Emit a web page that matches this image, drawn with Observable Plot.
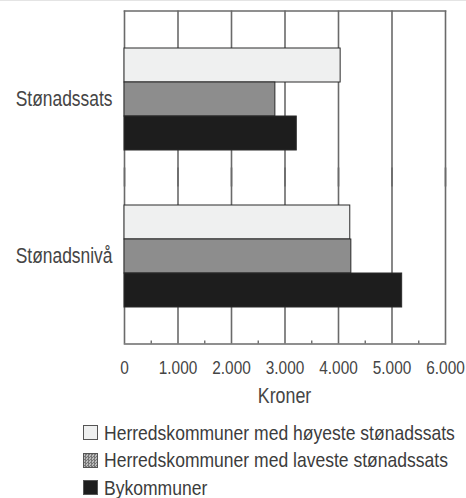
<!DOCTYPE html>
<html>
<head>
<meta charset="utf-8">
<script src="https://cdn.jsdelivr.net/npm/d3@7"></script>
<script src="https://cdn.jsdelivr.net/npm/@observablehq/plot@0.6"></script>
<style>
  html, body { margin: 0; padding: 0; background: #fff; }
  body { width: 466px; height: 498px; overflow: hidden; position: relative; }
  .topline { position: absolute; left: 0; top: 0; width: 466px; height: 1px; background: #e4e4e4; }
  #chart svg { display: block; }
  .legend { font-family: "Liberation Sans", Arial, sans-serif; font-size: 21px; color: #3c3c3c; margin-left: 83px; margin-top: 9px; }
  .row { display: flex; align-items: center; height: 27.5px; white-space: nowrap; }
  .row span { display: inline-block; transform: scaleX(0.835); transform-origin: left center; }
  .sw { width: 15px; height: 15px; box-sizing: border-box; border: 1px solid #555; margin-right: 6px; flex: none; }
</style>
</head>
<body>
<div class="topline"></div>
<div id="chart"></div>
<div class="legend" id="legend"></div>
<script>
const groups = ["Stønadssats", "Stønadsnivå"];
const series = [
  "Herredskommuner med høyeste stønadssats",
  "Herredskommuner med laveste stønadssats",
  "Bykommuner"
];
const hoyeste = [4040, 4220];
const laveste = [2820, 4240];
const bykommuner = [3220, 5190];
const xTicks = [0, 1000, 2000, 3000, 4000, 5000, 6000];
const minorTicks = [500, 1500, 2500, 3500, 4500, 5500];
const colors = ["#eff0f0", "#8d8d8d", "#1d1d1d"];

const seriesValues = [hoyeste, laveste, bykommuner];
const data = [];
groups.forEach((g, gi) => {
  series.forEach((s, si) => data.push({group: g, series: s, value: seriesValues[si][gi]}));
});

const font = '"Liberation Sans", Arial, sans-serif';
const fmt = d => d3.format(",")(d).replace(/,/g, ".");
const ext = 9.5; // frame extends beyond the facet bands
const gridStroke = "#6a6a6a";

const chart = Plot.plot({
  width: 466,
  height: 410,
  marginLeft: 124,
  marginRight: 21,
  marginTop: 10,
  marginBottom: 67,
  style: {fontFamily: font, fontSize: "21px", color: "#454545", background: "#fff"},
  x: {domain: [0, 6000], axis: null},
  y: {domain: series, axis: null, paddingInner: 0, paddingOuter: 0.775},
  fy: {domain: groups, paddingInner: 0, paddingOuter: 0.0605, axis: null},
  color: {domain: series, range: colors},
  marks: [
    Plot.ruleX(xTicks, {stroke: gridStroke, strokeWidth: 1.6, insetTop: -ext, insetBottom: -ext}),
    Plot.frame({anchor: "top", facetAnchor: "top", dy: -ext, stroke: gridStroke, strokeWidth: 1.6}),
    Plot.frame({anchor: "bottom", facetAnchor: "bottom", dy: ext, stroke: gridStroke, strokeWidth: 1.6}),
    Plot.barX(data, {x: "value", y: "series", fy: "group", fill: "series", stroke: "#2a2a2a", strokeWidth: 1}),
    Plot.axisFy({anchor: "left", tickSize: 0, tickPadding: 12, label: null, fontSize: 21.5}),
    Plot.axisX(minorTicks, {anchor: "bottom", tickSize: -3, text: null, label: null, dy: ext, stroke: gridStroke, strokeWidth: 1.4}),
    Plot.axisX(xTicks, {anchor: "bottom", tickSize: 0, tickPadding: 16 + ext, tickFormat: fmt, fontSize: 19, label: null})
  ]
});
document.getElementById("chart").append(chart);

// axis title
const svg = d3.select(chart);
svg.append("text")
  .attr("x", 124 + (466 - 124 - 21) / 2)
  .attr("y", 403)
  .attr("text-anchor", "middle")
  .attr("fill", "#454545")
  .style("font-size", "22px")
  .text("Kroner");

// narrow (condensed) rendering of the chart's texts
svg.selectAll("text").each(function() {
  const L = this.getComputedTextLength();
  if (L > 0) {
    this.setAttribute("textLength", (L * 0.81).toFixed(2));
    this.setAttribute("lengthAdjust", "spacingAndGlyphs");
  }
});

const legend = document.getElementById("legend");
series.forEach((s, i) => {
  const row = document.createElement("div");
  row.className = "row";
  const sw = document.createElement("div");
  sw.className = "sw";
  sw.style.background = colors[i];
  if (i === 1) {
    sw.style.background = "repeating-conic-gradient(#777 0% 25%, #bbb 0% 50%) 0 0 / 3px 3px";
  }
  const t = document.createElement("span");
  t.textContent = s;
  row.append(sw, t);
  legend.append(row);
});
</script>
</body>
</html>
